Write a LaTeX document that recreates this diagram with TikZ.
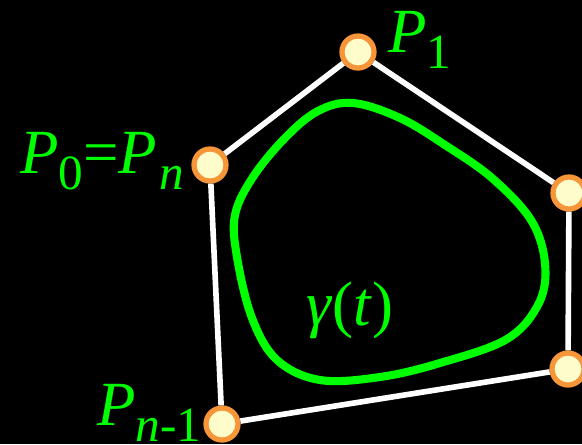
\documentclass[tikz,border=0pt]{standalone}
\usepackage{fontspec}
\setmainfont{Liberation Serif}
\usepackage{tikz}
\usetikzlibrary{positioning}
\definecolor{ptorange}{RGB}{247,150,56}
\definecolor{ptcream}{RGB}{255,252,204}
\definecolor{curvegreen}{RGB}{0,255,0}
\newcommand{\lowsub}[1]{\raisebox{-9.6pt}{\fontsize{28}{30}\selectfont #1}}

\begin{document}
\begin{tikzpicture}[
  x=0.02cm, y=-0.02cm,
  every node/.style={font=\fontsize{35.8}{40}\selectfont},
  vertex/.style={circle, draw=ptorange, fill=ptcream, line width=3pt, minimum size=0.64cm, inner sep=0pt},
  edge/.style={draw=white, line width=3.2pt},
  label/.style={text=curvegreen, inner sep=0pt, anchor=base west},
  curve/.style={draw=curvegreen, line width=4.6pt}
]
\fill[black] (0,0) rectangle (582,444);
\useasboundingbox (0,0) rectangle (582,444);

\draw[curve] plot[smooth cycle, tension=0.6] coordinates {
  (353,103) (318,111) (285,138) (253,177) (235,215) (237,257) (252,318)
  (277,360) (320,380) (380,377) (440,363) (507,339) (539,303) (545,263)
  (531,220) (492,178) (445,145) (400,118)};

\node[vertex] (p0) at (210,165) {};
\node[vertex] (p1) at (358,52) {};
\node[vertex] (p2) at (569,193) {};
\node[vertex] (p3) at (568,369) {};
\node[vertex] (pn1) at (222,424) {};

\draw[edge] (p0) -- (p1);
\draw[edge] (p1) -- (p2);
\draw[edge] (p2) -- (p3);
\draw[edge] (p3) -- (pn1);
\draw[edge] (pn1) -- (p0);

\node[label] (lbl0) at (20,173) {\textit{P}\lowsub{0}=\textit{P}\kern1pt\lowsub{\textit{n}}};
\node[label] (lbl1) at (388,52) {\textit{P}\lowsub{1}};
\node[label] (lbln1) at (97,425) {\textit{P}\lowsub{\textit{n}-1}};
\node[label] (gamma) at (306,325) {\textit{γ}(\textit{t})};
\end{tikzpicture}
\end{document}
